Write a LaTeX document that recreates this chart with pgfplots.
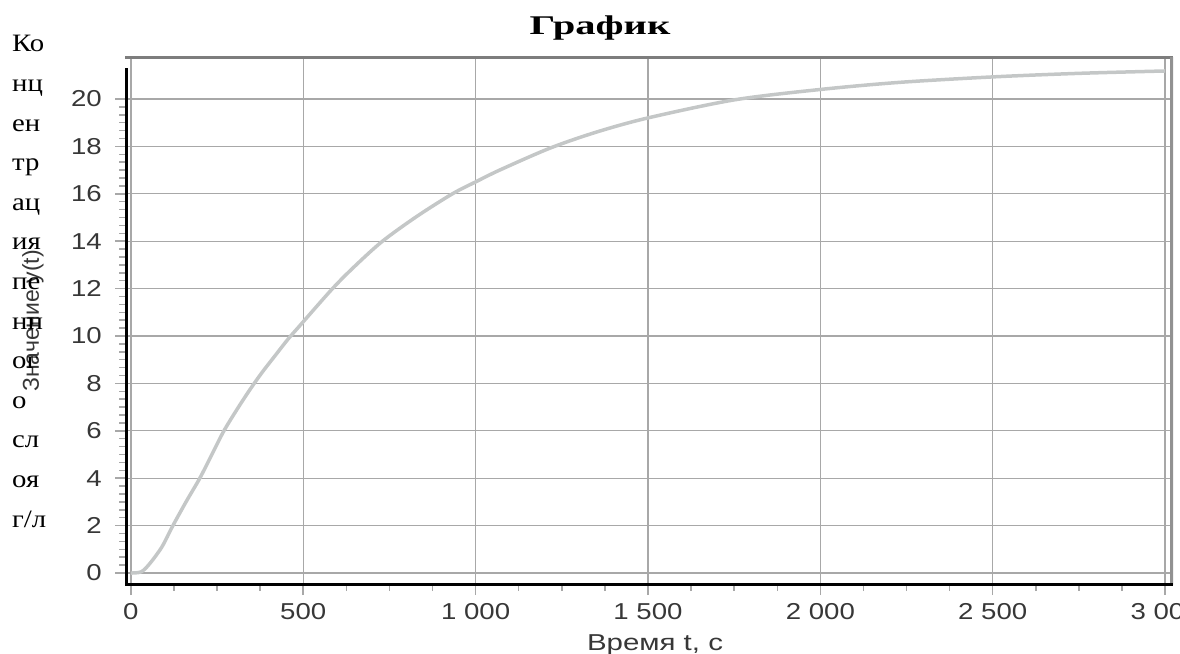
\documentclass[border=0pt]{standalone}
\usepackage{pgfplots}
\pgfplotsset{compat=1.18}
\usepackage{fontspec}
\setmainfont{Liberation Sans}
\newfontfamily\serif{Liberation Serif}
\usepackage{graphicx}
\newcommand\hs[1]{\scalebox{1.2}[1]{#1}}
\newcommand\ts{\hspace{0.28em}}
\definecolor{curvec}{RGB}{196,199,199}
\definecolor{gridc}{RGB}{168,168,168}
\definecolor{labc}{RGB}{55,55,55}
\definecolor{framec}{RGB}{125,125,125}

\begin{document}
\begin{tikzpicture}
\path[use as bounding box] (0,0) rectangle (1180pt,653pt);
\begin{axis}[
  at={(125pt,68pt)}, anchor=south west,
  scale only axis, width=1048pt, height=528pt,
  xmin=-17, xmax=3023, ymin=-0.506, ymax=21.77,
  xtick={0,500,1000,1500,2000,2500,3000},
  xticklabels={\hs{0},\hs{500},\hs{1\ts000},\hs{1\ts500},\hs{2\ts000},\hs{2\ts500},\hs{3\ts000}},
  ytick={0,2,4,6,8,10,12,14,16,18,20},
  yticklabels={\hs{0},\hs{2},\hs{4},\hs{6},\hs{8},\hs{10},\hs{12},\hs{14},\hs{16},\hs{18},\hs{20}},
  xtick pos=bottom, ytick pos=left,
  minor x tick num=3, minor y tick num=5,
  tick align=outside, major tick length=10pt, minor tick length=6pt,
  tick style={gridc, line width=1.5pt},
  grid=major, major grid style={gridc, line width=1.3pt},
  axis line style={draw=none},
  xticklabel style={anchor=north, inner sep=0pt, yshift=-8pt},
  yticklabel style={anchor=east, inner sep=0pt, xshift=-13pt},
  every tick label/.append style={font=\fontsize{23}{26}\selectfont, text=labc},
]
\addplot[curvec, line width=3.5pt, smooth] coordinates {
 (0,0) (30,0.05) (55,0.4) (90,1.1) (122,2) (160,3) (200,4) (235,5) (270,6)
 (310,6.95) (346,7.75) (380,8.45) (420,9.2) (455,9.85) (491,10.45) (585,12.0)
 (650,12.95) (730,14.0) (830,15.05)
 (933,16.0) (1000,16.5) (1070,17.0) (1215,17.92) (1350,18.6) (1500,19.2)
 (1750,19.96) (2000,20.4) (2230,20.7) (2500,20.93) (2750,21.08) (3000,21.18)
};
\draw[framec, line width=4pt] (rel axis cs:0,1) -- (rel axis cs:1,1);
\draw[framec!85, line width=6pt] (rel axis cs:1,0) -- (rel axis cs:1,1);
\draw[black, line width=4pt] (rel axis cs:0,0) -- (rel axis cs:1,0);
\draw[black, line width=6pt] (rel axis cs:0,0) -- (rel axis cs:0,0.98);
\end{axis}
\node[rotate=90, text=labc, font=\fontsize{23}{26}\selectfont] at (33pt,332pt) {Значение y(t)};
\foreach \s [count=\i from 0] in {Ко,нц,ен,тр,ац,ия,пе,нн,ог,о,сл,оя,г/л}
  \node[anchor=base west, inner sep=0pt, font=\serif\fontsize{25}{28}\selectfont] at (12pt,{601pt-39.6pt*\i}) {\scalebox{1.15}[1]{\s}};
\node[anchor=base, inner sep=0pt, font=\serif\bfseries\fontsize{27}{30}\selectfont] at (600pt,618pt) {\scalebox{1.5}[1]{График}};
\node[anchor=base, inner sep=0pt, text=labc, font=\fontsize{23}{26}\selectfont] at (655pt,3pt) {\scalebox{1.28}[1]{Время t, c}};
\end{tikzpicture}
\end{document}
